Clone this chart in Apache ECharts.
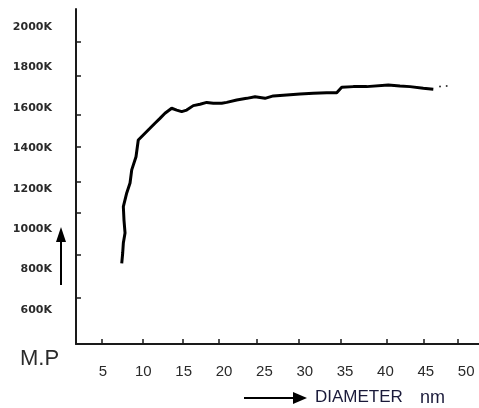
<!DOCTYPE html>
<html><head><meta charset="utf-8">
<script src="https://cdn.jsdelivr.net/npm/echarts@6/dist/echarts.min.js"></script>
<style>html,body{margin:0;padding:0;background:#fff}#c{width:479px;height:408px}</style>
</head><body><div id="c"></div>
<script>
// diameter (nm)
const diameter = [7.32,7.44,7.52,7.73,7.60,7.52,7.94,8.35,8.56,9.09,9.37,9.99,10.82,11.44,12.06,12.68,13.51,14.13,14.75,15.37,16.19,17.02,17.85,18.67,19.71,20.33,21.57,22.81,23.84,25.07,26.10,27.76,29.41,31.06,32.72,33.96,34.58,36.02,37.68,40.35,41.80,43.04,44.69,45.93];
// melting point (K)
const meltingPoint = [831000,882000,931000,981000,1045000,1111000,1179000,1228000,1293000,1358000,1441000,1466000,1499000,1524000,1548000,1573000,1598000,1589000,1581000,1589000,1611000,1618000,1627000,1623000,1623000,1627000,1639000,1647000,1655000,1647000,1659000,1664000,1669000,1672000,1675000,1675000,1702000,1705000,1705000,1713000,1708000,1705000,1697000,1692000];
const strayX = [46.76, 47.59];
const strayY = [1705000, 1708000];
const xLabels = [5,10,15,20,25,30,35,40,45,50];
const xTicks = [4.88,9.96,14.83,19.4,24.1,29.2,34.5,40.1,44.7,49.0];
const yLabels = [600000,800000,1000000,1200000,1400000,1600000,1800000,2000000];
const yTicks = [659000,872000,1080000,1233000,1406000,1565000,1758000,1926000];

const chart = echarts.init(document.getElementById('c'), null, {renderer:'canvas'});
const axisLineStyle = {color:'#1a1a1a', width:2};
chart.setOption({
  animation:false,
  backgroundColor:'#fff',
  grid:{left:76, top:9, right:0, bottom:64, containLabel:false},
  xAxis:{
    type:'value', min:1.654, max:51.59,
    axisLine:{show:true, lineStyle:axisLineStyle},
    axisTick:{show:true, inside:true, length:5, lineStyle:{color:'#1a1a1a', width:1.5}, customValues:xTicks},
    axisLabel:{customValues:xLabels, margin:20, fontFamily:'Liberation Sans', fontSize:15, color:'#2a2a2a', formatter:v=>String(v)},
    splitLine:{show:false}
  },
  yAxis:{
    type:'value', min:431800, max:2089000,
    axisLine:{show:true, lineStyle:axisLineStyle},
    axisTick:{show:true, inside:true, length:5, lineStyle:{color:'#1a1a1a', width:1.5}, customValues:yTicks},
    axisLabel:{customValues:yLabels, margin:24, fontFamily:'DejaVu Sans', fontWeight:'bold', fontSize:11, color:'#2a2a2a', formatter:v=>(v/1000)+'K'},
    splitLine:{show:false}
  },
  series:[
    {type:'line', data:diameter.map((d,i)=>[d, meltingPoint[i]]), showSymbol:false, symbol:'none',
     lineStyle:{color:'#000', width:3}},
    {type:'scatter', data:strayX.map((d,i)=>[d, strayY[i]]), symbolSize:2, itemStyle:{color:'#000'}}
  ],
  graphic:[
    {type:'text', left:20, top:348, style:{text:'M.P', fontFamily:'Liberation Sans', fontSize:22, fill:'#2a2a2a'}},
    {type:'line', shape:{x1:61, y1:285, x2:61, y2:238}, style:{stroke:'#000', lineWidth:2}},
    {type:'polygon', shape:{points:[[61,227],[56,242],[66,242]]}, style:{fill:'#000'}},
    {type:'line', shape:{x1:244, y1:398, x2:296, y2:398}, style:{stroke:'#000', lineWidth:2}},
    {type:'polygon', shape:{points:[[307,398],[293,392],[293,404]]}, style:{fill:'#000'}},
    {type:'text', left:315, top:389, style:{text:'DIAMETER', fontFamily:'Liberation Sans', fontSize:17, fill:'#1a1a3a'}},
    {type:'text', left:420, top:389, style:{text:'nm', fontFamily:'Liberation Sans', fontSize:18, fill:'#1a1a3a'}}
  ]
});
</script></body></html>
